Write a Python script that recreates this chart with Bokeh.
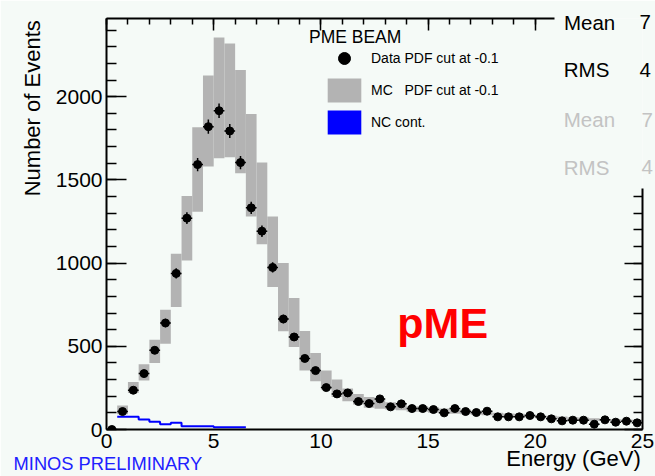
import math
import numpy as np
from bokeh.plotting import figure
from bokeh.models import (ColumnDataSource, LinearAxis, SingleIntervalTicker, FixedTicker,
                          Range1d, Label, Legend, LegendItem)
from bokeh.embed import file_html
from bokeh.resources import INLINE

# ---- histogram binning: 0.5 GeV bins from 0 to 25 GeV ----
bin_width = 0.5
bin_low = np.arange(0.0, 25.0, bin_width)

# data events per bin
data_counts = [0, 108, 236, 336, 476, 640, 938, 1270, 1592, 1820,
               1916, 1794, 1604, 1332, 1192, 974, 664, 556, 427, 354,
               252, 214, 220, 168, 156, 184, 136, 154, 126, 126,
               120, 100, 126, 108, 102, 110, 76, 76, 76, 84,
               76, 64, 52, 56, 56, 32, 58, 44, 50, 40]

# MC prediction systematic band (lower / upper edge per bin)
mc_low = [0, 92, 220, 294, 400, 516, 736, 1016, 1308, 1580,
          1630, 1636, 1540, 1280, 1114, 856, 590, 496, 354, 290,
          240, 196, 170, 150, 130, 124, 120, 116, 106, 106,
          100, 96, 94, 92, 88, 86, 80, 78, 76, 72,
          68, 64, 60, 58, 56, 52, 50, 48, 46, 44]
mc_high = [0, 144, 286, 392, 540, 720, 1056, 1404, 1816, 2128,
           2356, 2320, 2160, 1896, 1604, 1280, 1000, 790, 592, 460,
           354, 300, 246, 214, 196, 180, 164, 160, 140, 140,
           134, 126, 122, 120, 112, 110, 100, 96, 94, 90,
           86, 82, 78, 74, 72, 68, 64, 62, 60, 58]

# NC contamination (non-empty bins 0.5 - 6.5 GeV)
nc_low_edge = [0.5, 1.0, 1.5, 2.0, 2.5, 3.0, 3.5, 4.0, 4.5, 5.0, 5.5, 6.0]
nc_counts = [76, 76, 60, 46, 32, 40, 20, 20, 20, 14, 14, 14]

x_max = 25.0
y_max = 2470.0

bg = "#f5faf7"
band_color = "#b3b3b3"
stat_grey = "#c3c3c3"
font = "Liberation Sans"

# canvas geometry of the frame (pixels)
FL, FR, FT, FB = 106, 646, 18, 430


def px_x(px):
    return (px - FL) / (FR - FL) * x_max


def px_y(py):
    return (FB - py) / (FB - FT) * y_max


centers = bin_low + bin_width / 2
err = [math.sqrt(c) for c in data_counts]

src = ColumnDataSource(dict(
    left=bin_low, right=bin_low + bin_width, x=centers,
    y=data_counts, lo=mc_low, hi=mc_high,
    ylo=[c - e for c, e in zip(data_counts, err)],
    yhi=[c + e for c, e in zip(data_counts, err)],
))

p = figure(width=655, height=476, x_range=Range1d(0, x_max), y_range=Range1d(0, y_max),
           output_backend="svg", toolbar_location=None,
           min_border_left=FL, min_border_right=655 - FR, min_border_top=FT,
           min_border_bottom=476 - FB,
           background_fill_color=bg, border_fill_color=bg, outline_line_color=None)
p.xgrid.visible = False
p.ygrid.visible = False

# MC band
band_r = p.quad(left="left", right="right", bottom="lo", top="hi", source=src,
                fill_color=band_color, line_color=None)

# NC contamination histogram line
nc_x = nc_low_edge + [nc_low_edge[-1] + bin_width]
nc_y = nc_counts + [nc_counts[-1]]
p.step(x=nc_x, y=nc_y, mode="after", line_color="#0000ff", line_width=2)
# zero-height boxes carrying the NC key in the legend
nc_src = ColumnDataSource(dict(left=nc_low_edge, right=[e + bin_width for e in nc_low_edge],
                               c=nc_counts))
nc_key_r = p.quad(left="left", right="right", bottom="c", top="c", source=nc_src,
                  fill_color="#0000ff", line_color=None)

# data points with error bars
p.segment(x0="left", x1="right", y0="y", y1="y", source=src, line_color="black", line_width=1.5)
p.segment(x0="x", x1="x", y0="ylo", y1="yhi", source=src, line_color="black", line_width=1.5)
data_r = p.scatter(x="x", y="y", source=src, size=8, marker="circle",
                   fill_color="black", line_color="black")

# ---- frame axes ----
xax = p.xaxis[0]
yax = p.yaxis[0]
for ax in (xax, yax):
    ax.axis_line_width = 2
    ax.axis_line_color = "black"
    ax.major_tick_line_width = 1.5
    ax.minor_tick_line_width = 1.5
    ax.major_tick_out = 0
    ax.minor_tick_out = 0
    ax.major_label_text_font = font
    ax.major_label_text_color = "black"
    ax.major_label_text_font_size = "21px"

xax.ticker = SingleIntervalTicker(interval=5, num_minor_ticks=5)
xax.major_tick_in = 0
xax.minor_tick_in = 0
xax.major_label_standoff = 4

yax.ticker = SingleIntervalTicker(interval=500, num_minor_ticks=5)
yax.major_tick_in = 20
yax.minor_tick_in = 10
yax.major_label_standoff = 4

top_ax = LinearAxis(ticker=SingleIntervalTicker(interval=5, num_minor_ticks=5),
                    bounds=(0, 20.9), major_tick_in=12, minor_tick_in=6,
                    major_tick_out=0, minor_tick_out=0, axis_line_width=2,
                    major_tick_line_width=1.5, minor_tick_line_width=1.5,
                    major_label_text_color=None, major_label_text_font_size="1px",
                    major_label_standoff=0)
p.add_layout(top_ax, "above")

right_ax = LinearAxis(ticker=SingleIntervalTicker(interval=500, num_minor_ticks=5),
                      bounds=(0, 1450), major_tick_in=18, minor_tick_in=9,
                      major_tick_out=0, minor_tick_out=0, axis_line_width=2,
                      major_tick_line_width=1.5, minor_tick_line_width=1.5,
                      major_label_text_color=None, major_label_text_font_size="1px",
                      major_label_standoff=0)
p.add_layout(right_ax, "right")


def text_axis(positions, texts, size, color, standoff, orientation="horizontal"):
    """Axis without line or ticks whose tick labels carry outer texts."""
    return LinearAxis(ticker=FixedTicker(ticks=positions, minor_ticks=[]),
                      major_label_overrides=dict(zip(positions, texts)),
                      axis_line_color=None, major_tick_in=0, major_tick_out=0,
                      minor_tick_in=0, minor_tick_out=0,
                      major_label_text_font=font, major_label_text_font_size=size,
                      major_label_text_color=color, major_label_standoff=standoff,
                      major_label_orientation=orientation)


# axis titles and footer
p.add_layout(text_axis([round(px_x(576.5), 3)], ["Energy (GeV)"], "22px", "black", -5), "below")
p.add_layout(text_axis([round(px_x(107.4), 3)], ["MINOS PRELIMINARY"], "18.3px", "#2020ff", -21), "below")
p.add_layout(text_axis([round(px_y(108), 1)], ["Number of Events"], "22px", "black", 7,
                       orientation="vertical"), "left")

# statistics box: first "Mean" row sits across the frame top
p.add_layout(text_axis([round(px_x(592.7), 3)], ["Mean"], "20.5px", "black", -15), "above")
# statistics box values (right of the frame edge)
p.add_layout(text_axis([round(px_y(21.8), 1), round(px_y(69.5), 1)], ["7", "4"],
                       "20.5px", "black", -3), "right")
p.add_layout(text_axis([round(px_y(119.5), 1), round(px_y(166.8), 1)], ["7", "4"],
                       "20.5px", stat_grey, -12), "right")

# ---- legend ----
legend = Legend(items=[
    LegendItem(label="Data PDF cut at -0.1", renderers=[data_r]),
    LegendItem(label="MC\u00a0\u00a0\u00a0PDF cut at -0.1", renderers=[band_r]),
    LegendItem(label="NC cont.", renderers=[nc_key_r]),
], location=(217, 292), padding=0, margin=0, spacing=2,
    glyph_width=42, glyph_height=30, label_standoff=6, label_height=20,
    label_text_font=font, label_text_font_size="14px", label_text_color="black",
    border_line_color=None, background_fill_alpha=0)
p.add_layout(legend, "center")


def add_text(text, x_px, baseline_px, size_px, color="black", style="normal"):
    # vertically centred text; the centre sits about 0.35 em above the baseline
    p.add_layout(Label(x=px_x(x_px), y=px_y(baseline_px - 0.3465 * size_px), text=text,
                       text_font=font, text_font_size=f"{size_px}px",
                       text_color=color, text_font_style=style, text_align="left",
                       text_baseline="middle"))


add_text("PME BEAM", 310, 42.3, 17.5)
add_text("pME", 399, 338.3, 43, color="#ff0000", style="bold")
add_text("RMS", 566.7, 76.7, 20.5)
add_text("Mean", 566.7, 126.7, 20.5, color=stat_grey)
add_text("RMS", 566.7, 174, 20.5, color=stat_grey)

open("out.html", "w").write(file_html(p, INLINE))
